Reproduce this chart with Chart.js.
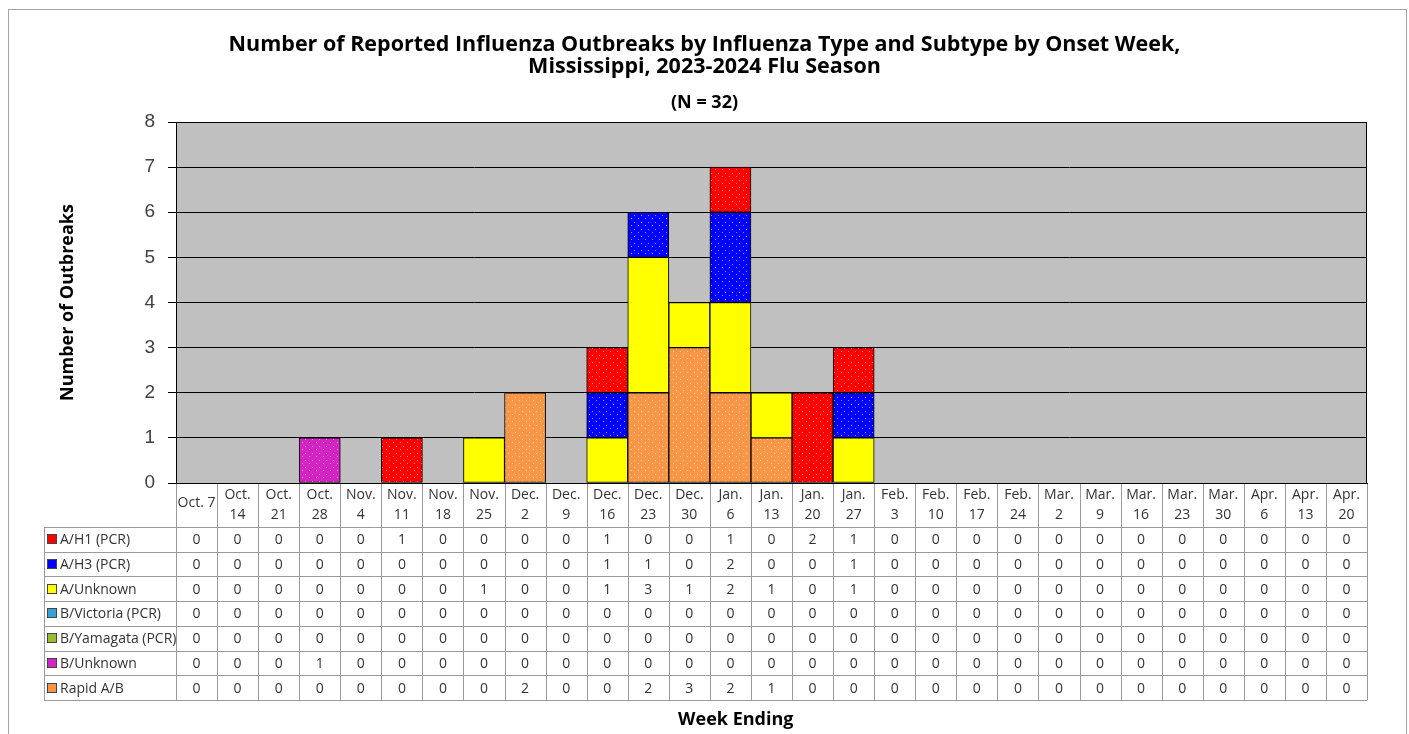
<!DOCTYPE html>
<html>
<head>
<meta charset="utf-8">
<title>Influenza Outbreaks by Onset Week, Mississippi 2023-2024</title>
<script src="https://cdn.jsdelivr.net/npm/chart.js@4.4.1/dist/chart.umd.min.js"></script>
<style>
  html, body { margin: 0; padding: 0; background: #fff; }
  #wrap { position: relative; width: 1409px; height: 734px; }
</style>
</head>
<body>
<div id="wrap"><canvas id="outbreaks" width="1409" height="734"></canvas></div>
<script>
// Week ending dates (x categories), lines as they wrap in the table header
var weeks = [["Oct. 7"], ["Oct.", "14"], ["Oct.", "21"], ["Oct.", "28"], ["Nov.", "4"], ["Nov.", "11"],
  ["Nov.", "18"], ["Nov.", "25"], ["Dec.", "2"], ["Dec.", "9"], ["Dec.", "16"], ["Dec.", "23"],
  ["Dec.", "30"], ["Jan.", "6"], ["Jan.", "13"], ["Jan.", "20"], ["Jan.", "27"], ["Feb.", "3"],
  ["Feb.", "10"], ["Feb.", "17"], ["Feb.", "24"], ["Mar.", "2"], ["Mar.", "9"], ["Mar.", "16"],
  ["Mar.", "23"], ["Mar.", "30"], ["Apr.", "6"], ["Apr.", "13"], ["Apr.", "20"]];

// outbreaks per week, by type / subtype
var aH1       = [0,0,0,0,0,1,0,0,0,0,1,0,0,1,0,2,1,0,0,0,0,0,0,0,0,0,0,0,0];
var aH3       = [0,0,0,0,0,0,0,0,0,0,1,1,0,2,0,0,1,0,0,0,0,0,0,0,0,0,0,0,0];
var aUnknown  = [0,0,0,0,0,0,0,1,0,0,1,3,1,2,1,0,1,0,0,0,0,0,0,0,0,0,0,0,0];
var bVictoria = [0,0,0,0,0,0,0,0,0,0,0,0,0,0,0,0,0,0,0,0,0,0,0,0,0,0,0,0,0];
var bYamagata = [0,0,0,0,0,0,0,0,0,0,0,0,0,0,0,0,0,0,0,0,0,0,0,0,0,0,0,0,0];
var bUnknown  = [0,0,0,1,0,0,0,0,0,0,0,0,0,0,0,0,0,0,0,0,0,0,0,0,0,0,0,0,0];
var rapidAB   = [0,0,0,0,0,0,0,0,2,0,0,2,3,2,1,0,0,0,0,0,0,0,0,0,0,0,0,0,0];

var yTicks = [0, 1, 2, 3, 4, 5, 6, 7, 8];

var FONT = '"Open Sans", "Noto Sans", sans-serif';

// rows of the data table, in table order (top row = top of stack)
var rows = [
  { label: "A/H1 (PCR)",        data: aH1,       color: "#FF0000", dotted: true },
  { label: "A/H3 (PCR)",        data: aH3,       color: "#0000FF", dotted: true },
  { label: "A/Unknown",         data: aUnknown,  color: "#FFFF00", dotted: false },
  { label: "B/Victoria (PCR)",  data: bVictoria, color: "#33A3D6", dotted: true },
  { label: "B/Yamagata (PCR)",  data: bYamagata, color: "#9BBB30", dotted: true },
  { label: "B/Unknown",         data: bUnknown,  color: "#D424C4", dotted: true },
  { label: "Rapid A/B",         data: rapidAB,   color: "#F79646", dotted: true }
];

function dots(color) {
  var c = document.createElement('canvas');
  c.width = 7; c.height = 7;
  var g = c.getContext('2d');
  g.fillStyle = color;
  g.fillRect(0, 0, 7, 7);
  g.fillStyle = 'rgba(255,255,255,0.55)';
  g.fillRect(1, 1, 1, 1);
  g.fillRect(4, 5, 1, 1);
  return g.createPattern(c, 'repeat');
}

// background, frame, data table and x title
var tablePlugin = {
  id: 'dataTable',
  beforeDraw: function(chart) {
    var ctx = chart.ctx, a = chart.chartArea;
    ctx.save();
    ctx.fillStyle = '#fff';
    ctx.fillRect(0, 0, chart.width, chart.height);
    ctx.strokeStyle = '#a6a6a6';
    ctx.lineWidth = 1;
    ctx.strokeRect(8.5, 9.5, chart.width - 11, chart.height + 20);
    ctx.fillStyle = '#c0c0c0';
    ctx.fillRect(a.left, a.top, a.right - a.left, a.bottom - a.top);
    ctx.restore();
  },
  afterDraw: function(chart) {
    var ctx = chart.ctx, a = chart.chartArea, x = chart.scales.x;
    var n = weeks.length, w = (a.right - a.left) / n;
    var headH = 44, rowH = 24.7, legLeft = 44;
    var top = a.bottom, rowTop = top + headH, bottom = rowTop + rowH * rows.length;
    var i, k;
    ctx.save();

    // plot border
    ctx.strokeStyle = '#000';
    ctx.lineWidth = 1;
    ctx.strokeRect(Math.round(a.left) + 0.5, Math.round(a.top) + 0.5,
      Math.round(a.right - a.left) - 1, Math.round(a.bottom - a.top));

    // grid of the table
    ctx.strokeStyle = '#9a9a9a';
    ctx.beginPath();
    for (i = 0; i <= n; i++) {
      var xx = Math.round(x.getPixelForValue(i) - w / 2) + 0.5;
      ctx.moveTo(xx, top + 1);
      ctx.lineTo(xx, bottom);
    }
    for (k = 0; k <= rows.length; k++) {
      var yy = Math.round(rowTop + k * rowH) + 0.5;
      ctx.moveTo(legLeft, yy);
      ctx.lineTo(a.right, yy);
    }
    ctx.moveTo(legLeft + 0.5, rowTop);
    ctx.lineTo(legLeft + 0.5, bottom);
    ctx.stroke();

    // week labels
    ctx.fillStyle = '#333';
    ctx.font = '14px ' + FONT;
    ctx.textAlign = 'center';
    ctx.textBaseline = 'middle';
    for (i = 0; i < n; i++) {
      var cx = x.getPixelForValue(i);
      var lab = weeks[i];
      if (lab.length > 1) {
        ctx.fillText(lab[0], cx, top + 12);
        ctx.fillText(lab[1], cx, top + 32);
      } else {
        ctx.fillText(lab[0], cx, top + 20);
      }
    }

    // rows: legend key, label and values
    for (k = 0; k < rows.length; k++) {
      var cy = rowTop + k * rowH + rowH / 2;
      ctx.fillStyle = rows[k].color;
      ctx.fillRect(47.5, Math.round(cy) - 4.5, 9, 9);
      ctx.strokeStyle = '#444';
      ctx.strokeRect(47.5, Math.round(cy) - 4.5, 9, 9);
      ctx.fillStyle = '#333';
      ctx.textAlign = 'left';
      ctx.fillText(rows[k].label, 60, cy + 1);
      ctx.textAlign = 'center';
      for (i = 0; i < n; i++) {
        ctx.fillText(String(rows[k].data[i]), x.getPixelForValue(i), cy + 1);
      }
    }

    // x axis title
    ctx.fillStyle = '#000';
    ctx.font = 'bold 18px ' + FONT;
    ctx.textAlign = 'center';
    ctx.fillText('Week Ending', a.left + (a.right - a.left) * 0.47, bottom + 20);
    ctx.restore();
  }
};

function build() {
  var datasets = rows.map(function(r, idx) {
    return {
      label: r.label,
      data: r.data.map(function(v) { return v || null; }),
      backgroundColor: r.dotted ? dots(r.color) : r.color,
      borderColor: '#000',
      borderWidth: 1,
      borderSkipped: false,
      barPercentage: 1,
      categoryPercentage: 1,
      order: rows.length - idx
    };
  });

  new Chart(document.getElementById('outbreaks'), {
    type: 'bar',
    data: { labels: weeks.map(function(l) { return l.join(' '); }), datasets: datasets },
    plugins: [tablePlugin],
    options: {
      responsive: false,
      animation: false,
      devicePixelRatio: 1,
      layout: { padding: { left: 42, right: 42, top: 0, bottom: 0 } },
      plugins: {
        legend: { display: false },
        tooltip: { enabled: false },
        title: {
          display: true,
          text: ['Number of Reported Influenza Outbreaks by Influenza Type and Subtype by Onset Week,',
                 'Mississippi, 2023-2024 Flu Season'],
          color: '#000',
          font: { family: FONT, size: 21.5, weight: 'bold', lineHeight: '22px' },
          padding: { top: 34, bottom: 6 }
        },
        subtitle: {
          display: true,
          text: '(N = 32)',
          color: '#000',
          font: { family: FONT, size: 18, weight: 'bold', lineHeight: '20px' },
          padding: { top: 9, bottom: 9 }
        }
      },
      scales: {
        x: {
          stacked: true,
          grid: { display: false },
          border: { display: true, color: '#000' },
          ticks: { display: false },
          afterFit: function(s) { s.height = 251; }
        },
        y: {
          stacked: true,
          min: yTicks[0],
          max: yTicks[yTicks.length - 1],
          afterBuildTicks: function(s) { s.ticks = yTicks.map(function(v) { return { value: v }; }); },
          ticks: { padding: 13, color: '#404040', font: { family: 'Liberation Sans', size: 19 } },
          grid: { color: '#000', tickColor: '#000', tickLength: 8 },
          border: { display: true, color: '#000' },
          title: {
            display: true,
            text: 'Number of Outbreaks',
            color: '#000',
            font: { family: FONT, size: 18, weight: 'bold' },
            padding: { top: 15, bottom: 0 }
          },
          afterFit: function(s) { s.width = 134; }
        }
      }
    }
  });
}

if (document.fonts && document.fonts.load) {
  Promise.all([
    document.fonts.load('bold 21px "Open Sans"'),
    document.fonts.load('14px "Open Sans"'),
    document.fonts.load('19px "Liberation Sans"')
  ]).then(build, build);
} else {
  build();
}
</script>
</body>
</html>
